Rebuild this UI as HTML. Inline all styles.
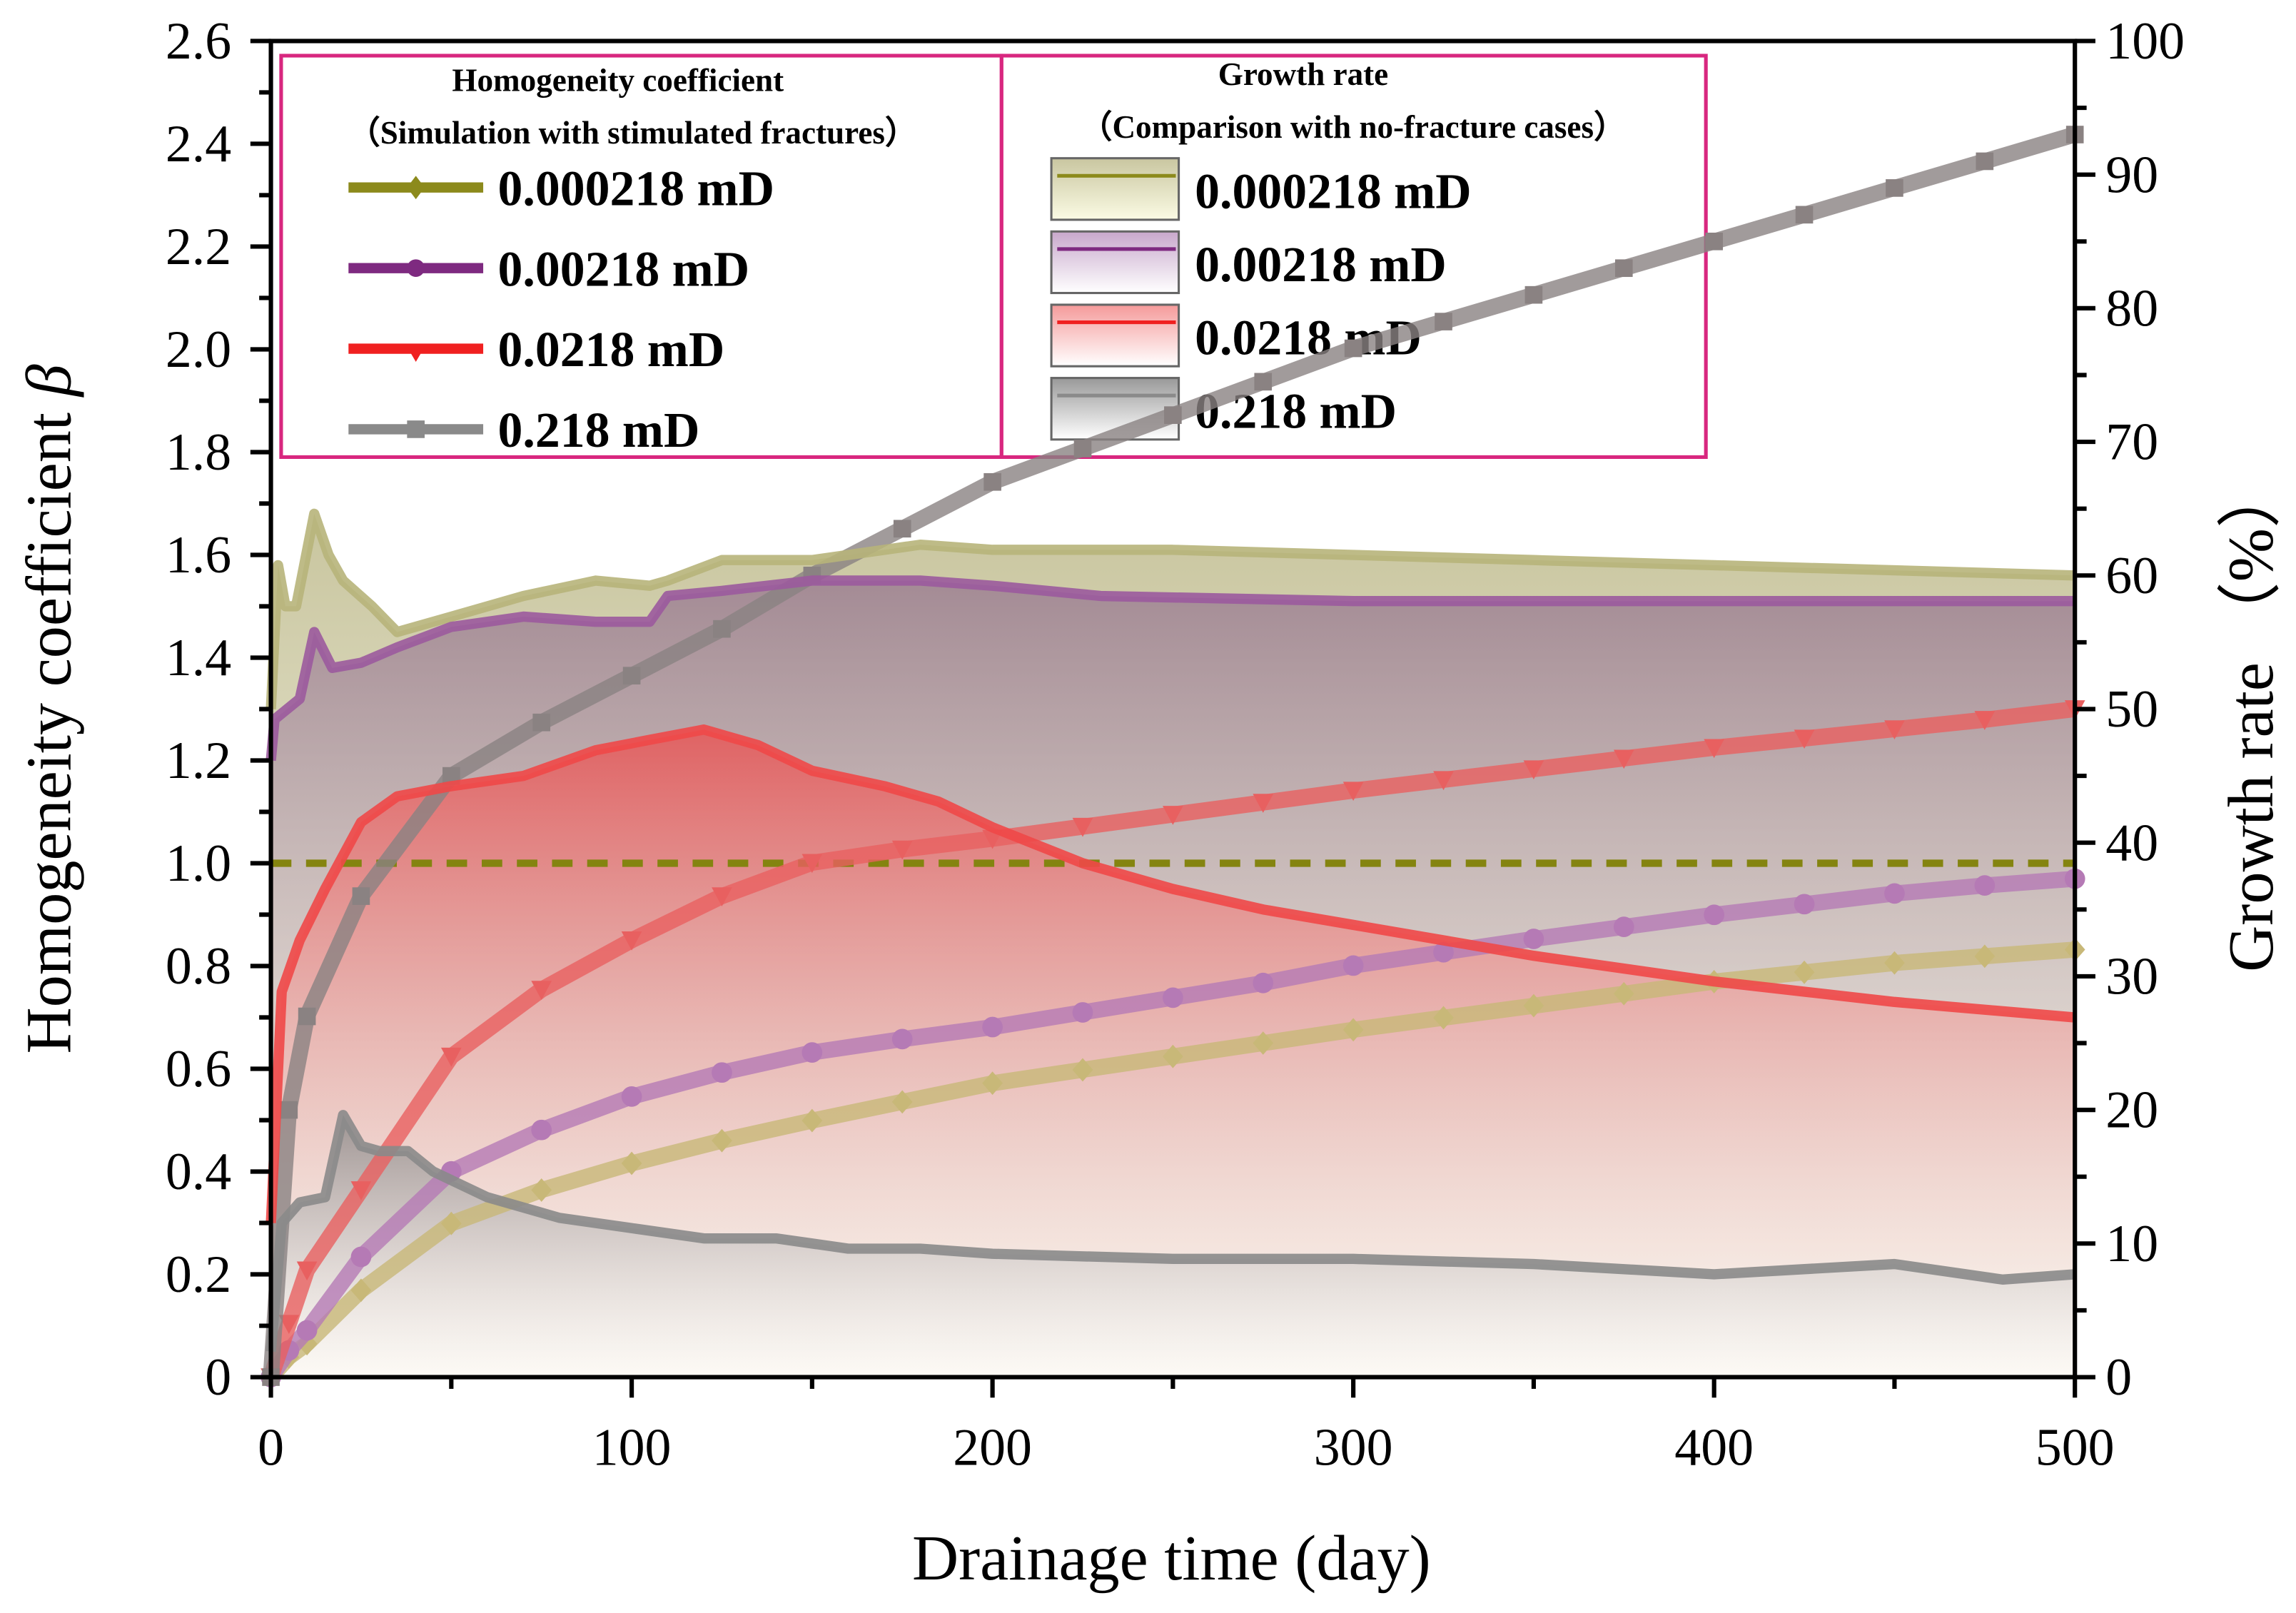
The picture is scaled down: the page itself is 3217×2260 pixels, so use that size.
<!DOCTYPE html>
<html><head><meta charset="utf-8"><style>
html,body{margin:0;padding:0;background:#fff;}
svg{display:block;}
text{font-family:"Liberation Serif",serif;}
</style></head><body>
<svg id="chart" width="3217" height="2260" viewBox="0 0 1568 1101" preserveAspectRatio="none" xmlns="http://www.w3.org/2000/svg">
<defs>
<linearGradient id="gOlive" gradientUnits="userSpaceOnUse" x1="0" y1="340" x2="0" y2="940"><stop offset="0" stop-color="#bdb98a" stop-opacity="0.85"/><stop offset="1" stop-color="#fbfaee" stop-opacity="0.6"/></linearGradient>
<linearGradient id="gPurple" gradientUnits="userSpaceOnUse" x1="0" y1="380" x2="0" y2="940"><stop offset="0" stop-color="#8e6a8a" stop-opacity="0.7"/><stop offset="1" stop-color="#f6f0ea" stop-opacity="0.3"/></linearGradient>
<linearGradient id="gRed" gradientUnits="userSpaceOnUse" x1="0" y1="490" x2="0" y2="940"><stop offset="0" stop-color="#ee4848" stop-opacity="0.75"/><stop offset="1" stop-color="#fff4ee" stop-opacity="0.2"/></linearGradient>
<linearGradient id="gGray" gradientUnits="userSpaceOnUse" x1="0" y1="750" x2="0" y2="940"><stop offset="0" stop-color="#777" stop-opacity="0.75"/><stop offset="1" stop-color="#fff" stop-opacity="0.3"/></linearGradient>
<linearGradient id="lgOlive" x1="0" y1="0" x2="0" y2="1"><stop offset="0" stop-color="#c9c6a0"/><stop offset="1" stop-color="#fbfbe4"/></linearGradient>
<linearGradient id="lgPurple" x1="0" y1="0" x2="0" y2="1"><stop offset="0" stop-color="#c8a8cc"/><stop offset="1" stop-color="#fff"/></linearGradient>
<linearGradient id="lgRed" x1="0" y1="0" x2="0" y2="1"><stop offset="0" stop-color="#f59a9a"/><stop offset="1" stop-color="#fff"/></linearGradient>
<linearGradient id="lgGray" x1="0" y1="0" x2="0" y2="1"><stop offset="0" stop-color="#999"/><stop offset="1" stop-color="#fff"/></linearGradient>
</defs>
<g id="legend">
 <rect x="192" y="38" width="492" height="274" fill="#fff" stroke="#d8277f" stroke-width="2.5"/>
 <rect x="684" y="38" width="481" height="274" fill="#fff" stroke="#d8277f" stroke-width="2.5"/>
 <text x="422" y="62" font-size="22" font-weight="bold" text-anchor="middle">Homogeneity coefficient</text>
 <text x="432" y="98" font-size="22" font-weight="bold" text-anchor="middle">（Simulation with stimulated fractures）</text>
 <text x="890" y="58" font-size="22" font-weight="bold" text-anchor="middle">Growth rate</text>
 <text x="924" y="94" font-size="22" font-weight="bold" text-anchor="middle">（Comparison with no-fracture cases）</text>
</g>
<g id="plot"></g>
<g id="axes"></g>
<text x="800" y="1078" font-size="44" text-anchor="middle">Drainage time (day)</text>
<text transform="translate(48,484) rotate(-90)" font-size="44" text-anchor="middle">Homogeneity coefficient <tspan font-style="italic">β</tspan></text>
<text transform="translate(1552,490) rotate(-90)" font-size="44" text-anchor="middle">Growth rate （%）</text>
</svg>
<script>
// ---- data ----
const betaOliveDays = [0,2,4,7,12,16,20,28,35,45,55,70,90,105,110,125,150,180,200,250,300,350,400,450,500];
const betaOlive = [1.3,1.58,1.5,1.5,1.68,1.6,1.55,1.5,1.45,1.47,1.49,1.52,1.55,1.54,1.55,1.59,1.59,1.62,1.61,1.61,1.6,1.59,1.58,1.57,1.56];
const betaPurpleDays = [0,1,8,12,17,25,35,50,70,90,105,110,125,150,180,200,230,300,400,500];
const betaPurple = [1.2,1.28,1.32,1.45,1.38,1.39,1.42,1.46,1.48,1.47,1.47,1.52,1.53,1.55,1.55,1.54,1.52,1.51,1.51,1.51];
const betaRedDays = [0,3,8,15,25,35,50,70,90,105,120,135,150,170,185,200,225,250,275,300,350,400,450,500];
const betaRed = [0.3,0.75,0.85,0.95,1.08,1.13,1.15,1.17,1.22,1.24,1.26,1.23,1.18,1.15,1.12,1.07,1.0,0.95,0.91,0.88,0.82,0.77,0.73,0.70];
const betaGrayDays = [0,3,8,15,20,25,30,38,45,60,80,100,120,140,160,180,200,250,300,350,400,450,480,500];
const betaGray = [0.05,0.3,0.34,0.35,0.51,0.45,0.44,0.44,0.4,0.35,0.31,0.29,0.27,0.27,0.25,0.25,0.24,0.23,0.23,0.22,0.2,0.22,0.19,0.2];
const growthDays = [0,5,10,25,50,75,100,125,150,175,200,225,250,275,300,325,350,375,400,425,450,475,500];
const growthGray = [0,20,27,36,45,49,52.5,56,60,63.5,67,69.5,72,74.5,77,79,81,83,85,87,89,91,93];
const growthRed = [0,4,8,14,24,29,32.7,36,38.5,39.5,40.3,41.2,42.1,43,43.9,44.7,45.5,46.3,47.1,47.8,48.5,49.2,50];
const growthPurple = [0,2,3.5,9,15.4,18.5,21,22.8,24.3,25.3,26.2,27.3,28.4,29.5,30.8,31.8,32.8,33.7,34.6,35.4,36.2,36.8,37.3];
const growthOlive = [0,1.5,2.5,6.5,11.5,14,16,17.7,19.2,20.6,22,23,24,25,26,26.9,27.8,28.7,29.6,30.3,31,31.5,32];
const xTicks = [0,100,200,300,400,500];
const yTicks = [0,0.2,0.4,0.6,0.8,1.0,1.2,1.4,1.6,1.8,2.0,2.2,2.4,2.6];
const y2Ticks = [0,10,20,30,40,50,60,70,80,90,100];
const refLine = [1.0];

// ---- axes functions ----
const X0=185,X1=1417,Y0=940,Y1=28;
const sx=d=>X0+(X1-X0)*d/500;
const sy=v=>Y0-(Y0-Y1)*v/2.6;
const sy2=v=>Y0-(Y0-Y1)*v/100;
const NS='http://www.w3.org/2000/svg';
function mk(tag,attrs,parent){const e=document.createElementNS(NS,tag);for(const k in attrs)e.setAttribute(k,attrs[k]);parent.appendChild(e);return e;}
const plot=document.getElementById('plot'), axes=document.getElementById('axes');

function pts(days,vals,fy){return days.map((d,i)=>sx(d).toFixed(1)+','+fy(vals[i]).toFixed(1));}

const betaSeries=[
 ['olive',betaOliveDays,betaOlive,'url(#gOlive)','#b7b47a'],
 ['purple',betaPurpleDays,betaPurple,'url(#gPurple)','#9b5a9d'],
 ['red',betaRedDays,betaRed,'url(#gRed)','#f04848'],
 ['gray',betaGrayDays,betaGray,'url(#gGray)','#8a8a8a']];
betaSeries.forEach(s=>{
 const p=pts(s[1],s[2],sy);
 const a=mk('polygon',{points:sx(s[1][0])+','+Y0+' '+p.join(' ')+' '+sx(s[1][s[1].length-1])+','+Y0,fill:s[3]},plot);
 
 
});
refLine.forEach(v=>{
 const l=mk('line',{x1:X0,x2:X1,y1:sy(v),y2:sy(v),stroke:'#848410','stroke-width':5,'stroke-dasharray':'14,10'},plot);
 
 
});
const growthSeries=[
 ['olive',growthOlive,'#c8b878','diamond'],
 ['purple',growthPurple,'#b57ab5','circle'],
 ['red',growthRed,'#e86060','triangle'],
 ['gray',growthGray,'#8a8282','square']];
growthSeries.forEach(s=>{
 const l=mk('polyline',{points:pts(growthDays,s[1],sy2).join(' '),fill:'none',stroke:s[2],'stroke-width':11,'stroke-opacity':0.8,'stroke-linejoin':'round'},plot);
 
 
 growthDays.forEach((d,i)=>{
  const x=sx(d),y=sy2(s[1][i]);let m;
  if(s[3]==='square')m=mk('rect',{x:x-6,y:y-6,width:12,height:12,fill:s[2]},plot);
  else if(s[3]==='circle')m=mk('circle',{cx:x,cy:y,r:7,fill:s[2]},plot);
  else if(s[3]==='diamond')m=mk('polygon',{points:`${x},${y-8} ${x+7},${y} ${x},${y+8} ${x-7},${y}`,fill:s[2]},plot);
  else m=mk('polygon',{points:`${x-7},${y-6} ${x+7},${y-6} ${x},${y+7}`,fill:s[2]},plot);
  
  
 });
});
betaSeries.forEach(s=>{
 const l=mk('polyline',{points:pts(s[1],s[2],sy).join(' '),fill:'none',stroke:s[4],'stroke-width':7,'stroke-opacity':0.9,'stroke-linejoin':'round'},plot);
 
 
});

const fr=mk('rect',{x:X0,y:Y1,width:X1-X0,height:Y0-Y1,fill:'none',stroke:'#000','stroke-width':3},axes);


for(let d=0;d<=500;d+=50){const mj=d%100===0;mk('line',{x1:sx(d),x2:sx(d),y1:Y0,y2:Y0+(mj?14:8),stroke:'#000','stroke-width':3},axes);}
xTicks.forEach(d=>{const t=mk('text',{x:sx(d),y:1000,'font-size':36,'text-anchor':'middle'},axes);t.textContent=d;
 
 });
for(let i=0;i<=26;i++){const v=i*0.1;const mj=i%2===0;mk('line',{x1:X0,x2:X0-(mj?14:8),y1:sy(v),y2:sy(v),stroke:'#000','stroke-width':3},axes);}
yTicks.forEach(v=>{const t=mk('text',{x:158,y:sy(v)+12,'font-size':36,'text-anchor':'end'},axes);t.textContent=v===0?'0':v.toFixed(1);
 
 });
for(let v=0;v<=100;v+=5){const mj=v%10===0;mk('line',{x1:X1,x2:X1+(mj?14:8),y1:sy2(v),y2:sy2(v),stroke:'#000','stroke-width':3},axes);}
y2Ticks.forEach(v=>{const t=mk('text',{x:1438,y:sy2(v)+12,'font-size':36,'text-anchor':'start'},axes);t.textContent=v;
 
 });

const legend=document.getElementById('legend');
const legLabels=['0.000218 mD','0.00218 mD','0.0218 mD','0.218 mD'];
const legColors=['#8c8a1c','#7e2a80','#f02020','#8a8a8a'];
const legGrads=['url(#lgOlive)','url(#lgPurple)','url(#lgRed)','url(#lgGray)'];
const legMarks=['diamond','circle','triangle','square'];
legLabels.forEach((lab,i)=>{
 const y=128+i*55;
 const l=mk('line',{x1:238,x2:330,y1:y,y2:y,stroke:legColors[i],'stroke-width':7},legend);
 
 
 const x=284;let m;
 if(legMarks[i]==='square')m=mk('rect',{x:x-6,y:y-6,width:12,height:12,fill:legColors[i]},legend);
 else if(legMarks[i]==='circle')m=mk('circle',{cx:x,cy:y,r:6,fill:legColors[i]},legend);
 else if(legMarks[i]==='diamond')m=mk('polygon',{points:`${x},${y-8} ${x+6},${y} ${x},${y+8} ${x-6},${y}`,fill:legColors[i]},legend);
 else m=mk('polygon',{points:`${x-7},${y-3} ${x+7},${y-3} ${x},${y+9}`,fill:legColors[i]},legend);
 
 
 const t=mk('text',{x:340,y:y+12,'font-size':34,'font-weight':'bold'},legend);t.textContent=lab;
 
 
 const y2=108+i*50;
 const r=mk('rect',{x:718,y:y2,width:87,height:42,fill:legGrads[i],stroke:'#666','stroke-width':1.5},legend);
 
 
 const sl=mk('line',{x1:722,x2:803,y1:y2+12,y2:y2+12,stroke:legColors[i],'stroke-width':2.5},legend);
 
 
 const t2=mk('text',{x:816,y:y2+34,'font-size':34,'font-weight':'bold'},legend);t2.textContent=lab;
 
 
});
</script>
</body></html>
